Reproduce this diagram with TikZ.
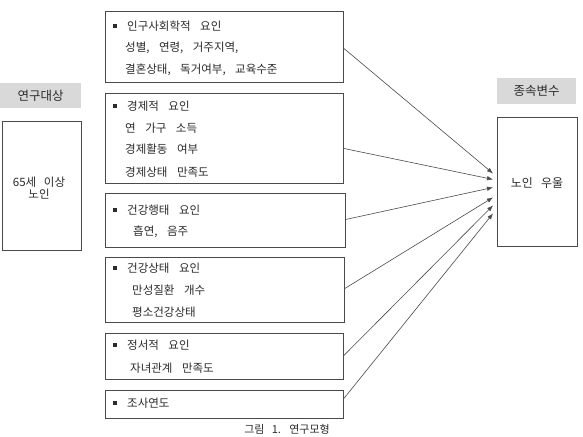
\documentclass[tikz,border=0pt]{standalone}
\usepackage{fontspec}
\newfontfamily\kr[WordSpace={3}]{Noto Sans CJK KR}
\usetikzlibrary{arrows.meta}
\definecolor{ink}{HTML}{2B2B2B}
\definecolor{edge}{HTML}{4A4A4A}
\definecolor{labelgray}{HTML}{D9D9D9}
\newcommand{\widesp}{\spaceskip=9.5pt plus 1pt minus 1pt\relax}
\tikzset{
  frame/.style={draw=edge, line width=0.9pt, fill=white, inner sep=0pt, anchor=north west},
  tag/.style={fill=labelgray, inner sep=0pt, anchor=north west, text=ink, font=\kr\fontsize{12.5}{14}\selectfont},
  line/.style={anchor=west, inner sep=0pt, text=ink, font=\kr\fontsize{11.5}{13}\selectfont\widesp},
  bul/.style={fill=ink, inner sep=0pt, minimum size=3.2pt},
  conn/.style={draw=edge, line width=0.6pt, -{Latex[length=6pt,width=4.5pt]}}
}
\begin{document}
\begin{tikzpicture}[x=1pt,y=-1pt]
\useasboundingbox (0,0) rectangle (583,436);
% left
\node[tag, minimum width=81pt, minimum height=25pt] (lt) at (0,83) {연구대상};
\node[frame, minimum width=79pt, minimum height=129pt] (lb) at (2,121) {};
\node[text=ink, font=\kr\fontsize{11.5}{12}\selectfont, inner sep=0pt, align=center] (lbt) at (39,188) {65세 이상\\노인};
% right
\node[tag, minimum width=79pt, minimum height=26pt] (rt) at (497,78) {종속변수};
\node[frame, minimum width=80pt, minimum height=129pt] (dep) at (497,117) {};
\node[text=ink, font=\kr\fontsize{12}{14}\selectfont, inner sep=0pt] (dept) at (537,183) {노인 우울};
% middle boxes
\node[frame, minimum width=238pt, minimum height=71pt] (b1) at (105,11) {};
\node[frame, minimum width=238pt, minimum height=90pt] (b2) at (105,93) {};
\node[frame, minimum width=240pt, minimum height=54pt] (b3) at (105,193) {};
\node[frame, minimum width=239pt, minimum height=65pt] (b4) at (105,257) {};
\node[frame, minimum width=238pt, minimum height=46pt] (b5) at (105,333) {};
\node[frame, minimum width=238pt, minimum height=28pt] (b6) at (105,390) {};
% box texts
\node[bul] (u1) at (115,26) {};
\node[line] (t1a) at (127,26) {인구사회학적 요인};
\node[line] (t1b) at (125,48) {성별, 연령, 거주지역,};
\node[line] (t1c) at (125,70) {결혼상태, 독거여부, 교육수준};
\node[bul] (u2) at (115,106) {};
\node[line] (t2a) at (127,106) {경제적 요인};
\node[line] (t2b) at (125,128) {연 가구 소득};
\node[line] (t2c) at (125,149) {경제활동 여부};
\node[line] (t2d) at (125,172) {경제상태 만족도};
\node[bul] (u3) at (115,210) {};
\node[line] (t3a) at (127,210) {건강행태 요인};
\node[line] (t3b) at (133,232) {흡연, 음주};
\node[bul] (u4) at (115,268) {};
\node[line] (t4a) at (127,268) {건강상태 요인};
\node[line] (t4b) at (132,290) {만성질환 개수};
\node[line] (t4c) at (132,312) {평소건강상태};
\node[bul] (u5) at (115,345) {};
\node[line] (t5a) at (127,345) {정서적 요인};
\node[line] (t5b) at (130,368) {자녀관계 만족도};
\node[bul] (u6) at (115,403) {};
\node[line] (t6a) at (127,403) {조사연도};
% caption
\node[text=ink, font=\kr\fontsize{11}{13}\selectfont, inner sep=0pt] (cap) at (287,429.5) {그림 1. 연구모형};
% arrow end points
\coordinate (e1) at ([xshift=-4pt,yshift=8.5pt]dep.west);
\coordinate (e2) at ([xshift=-4pt,yshift=2.5pt]dep.west);
\coordinate (e3) at ([xshift=-4pt,yshift=-5.5pt]dep.west);
\coordinate (e4) at ([xshift=-4pt,yshift=-15.5pt]dep.west);
\coordinate (e5) at ([xshift=-4pt,yshift=-23.5pt]dep.west);
\coordinate (e6) at ([xshift=-4pt,yshift=-31.5pt]dep.west);
% connectors
\draw[conn] ([yshift=-1.5pt]b1.east) -- (e1);
\draw[conn] ([yshift=-10pt]b2.east) -- (e2);
\draw[conn] ([yshift=1pt]b3.east) -- (e3);
\draw[conn] ([yshift=1.5pt]b4.east) -- (e4);
\draw[conn] ([yshift=1pt]b5.east) -- (e5);
\draw[conn] ([yshift=6pt]b6.east) -- (e6);
\end{tikzpicture}
\end{document}
